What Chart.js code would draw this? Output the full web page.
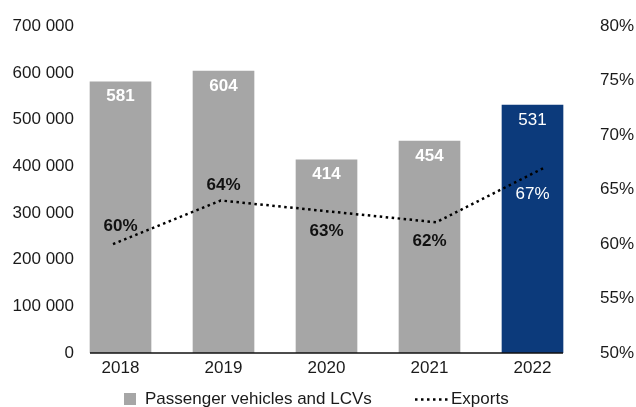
<!DOCTYPE html>
<html>
<head>
<meta charset="utf-8">
<script src="https://cdn.jsdelivr.net/npm/chart.js@4.4.0/dist/chart.umd.min.js"></script>
<style>
  html, body { margin: 0; padding: 0; background: #fff; }
</style>
</head>
<body>
<canvas id="chart" width="636" height="407"></canvas>
<script>
// Sales volumes and export share per year
const years = ['2018', '2019', '2020', '2021', '2022'];
const passengerVehicles = [581000, 604000, 414000, 454000, 531000];
const exportShare = [60, 64, 63, 62, 67];
const volumeTicks = [0, 100000, 200000, 300000, 400000, 500000, 600000, 700000];
const shareTicks = [50, 55, 60, 65, 70, 75, 80];
const highlightYear = '2022';

const FONT = "'Liberation Sans', Arial, sans-serif";
const SIZE = 17;
const GREY = '#a6a6a6';
const NAVY = '#0c3a7b';
const INK = '#1a1a1a';

Chart.defaults.font.family = FONT;
Chart.defaults.font.size = SIZE;
Chart.defaults.color = INK;

const spaced = (v) => String(v).replace(/\B(?=(\d{3})+(?!\d))/g, ' ');

// value labels on bars and on the export line
const valueLabels = {
    id: 'valueLabels',
    afterDatasetsDraw(chart, args, opts) {
        const { ctx } = chart;
        const lineMeta = chart.getDatasetMeta(0);
        const barMeta = chart.getDatasetMeta(1);
        ctx.save();
        ctx.textAlign = 'center';
        ctx.textBaseline = 'middle';
        barMeta.data.forEach((bar, i) => {
            const hi = years[i] === highlightYear;
            ctx.font = (hi ? 'normal ' : 'bold ') + SIZE + 'px ' + FONT;
            ctx.fillStyle = '#fff';
            ctx.fillText(Math.round(passengerVehicles[i] / 1000), bar.x, bar.y + opts.barOffset);
        });
        lineMeta.data.forEach((pt, i) => {
            const hi = years[i] === highlightYear;
            ctx.font = (hi ? 'normal ' : 'bold ') + SIZE + 'px ' + FONT;
            ctx.fillStyle = hi ? '#fff' : '#111';
            ctx.fillText(exportShare[i] + '%', barMeta.data[i].x, pt.y + opts.shareOffsets[i]);
        });
        ctx.restore();
    }
};

// baseline running under the bars only
const baseLine = {
    id: 'baseLine',
    afterDatasetsDraw(chart) {
        const { ctx, chartArea } = chart;
        const bars = chart.getDatasetMeta(1).data;
        const first = bars[0], last = bars[bars.length - 1];
        ctx.save();
        ctx.strokeStyle = '#111';
        ctx.lineWidth = 1.5;
        ctx.beginPath();
        ctx.moveTo(first.x - first.width / 2, chartArea.bottom);
        ctx.lineTo(last.x + last.width / 2, chartArea.bottom);
        ctx.stroke();
        ctx.restore();
    }
};

// legend: grey square for bars, dotted stroke for the line
const bottomLegend = {
    id: 'bottomLegend',
    afterDraw(chart) {
        const { ctx } = chart;
        const bars = chart.data.datasets[1];
        const line = chart.data.datasets[0];
        ctx.save();
        ctx.font = SIZE + 'px ' + FONT;
        ctx.fillStyle = GREY;
        ctx.fillRect(124, 393, 12, 12);
        ctx.fillStyle = INK;
        ctx.textBaseline = 'alphabetic';
        ctx.fillText(bars.label, 145, 404);

        ctx.strokeStyle = line.borderColor;
        ctx.lineWidth = line.borderWidth;
        ctx.setLineDash(line.borderDash);
        ctx.beginPath();
        ctx.moveTo(415, 399.5);
        ctx.lineTo(448, 399.5);
        ctx.stroke();
        ctx.setLineDash([]);
        ctx.fillText(line.label, 451, 404);
        ctx.restore();
    }
};

new Chart(document.getElementById('chart'), {
    type: 'bar',
    data: {
        labels: years,
        datasets: [
            {
                type: 'line',
                label: 'Exports',
                data: exportShare,
                xAxisID: 'xLine',
                yAxisID: 'yShare',
                borderColor: '#000',
                borderWidth: 2.5,
                borderDash: [2.5, 3.5],
                pointRadius: 0,
                tension: 0,
                fill: false,
                order: 0
            },
            {
                type: 'bar',
                label: 'Passenger vehicles and LCVs',
                data: passengerVehicles,
                xAxisID: 'x',
                yAxisID: 'y',
                backgroundColor: years.map(y => y === highlightYear ? NAVY : GREY),
                barThickness: 61,
                grouped: false,
                order: 1
            }
        ]
    },
    options: {
        responsive: false,
        animation: false,
        layout: { padding: { top: 25, left: 0, right: 0, bottom: 0 } },
        scales: {
            x: {
                type: 'linear',
                offset: false,
                min: 2017.5485,
                max: 2022.5,
                grid: { display: false, drawTicks: false },
                border: { display: false },
                afterBuildTicks: (s) => { s.ticks = years.map(y => ({ value: Number(y) })); },
                ticks: { padding: 5, color: INK, callback: (v) => String(v) },
                afterFit: (s) => { s.height = 54; }
            },
            xLine: {
                type: 'linear',
                display: false,
                offset: false,
                min: 2017.638,
                max: 2022.371
            },
            y: {
                position: 'left',
                min: 0,
                max: 700000,
                grid: { display: false, drawTicks: false },
                border: { display: false },
                afterBuildTicks: (s) => { s.ticks = volumeTicks.map(v => ({ value: v })); },
                ticks: { padding: 0, color: INK, callback: (v) => spaced(v) },
                afterFit: (s) => { s.width = 74; }
            },
            yShare: {
                position: 'right',
                min: 50,
                max: 80,
                grid: { display: false, drawTicks: false },
                border: { display: false },
                afterBuildTicks: (s) => { s.ticks = shareTicks.map(v => ({ value: v })); },
                ticks: { padding: 16, color: INK, callback: (v) => v + '%' },
                afterFit: (s) => { s.width = 52; }
            }
        },
        plugins: {
            legend: { display: false },
            tooltip: { enabled: false },
            valueLabels: { barOffset: 15, shareOffsets: [-18, -15, 20, 19, 26] }
        }
    },
    plugins: [valueLabels, baseLine, bottomLegend]
});
</script>
</body>
</html>
